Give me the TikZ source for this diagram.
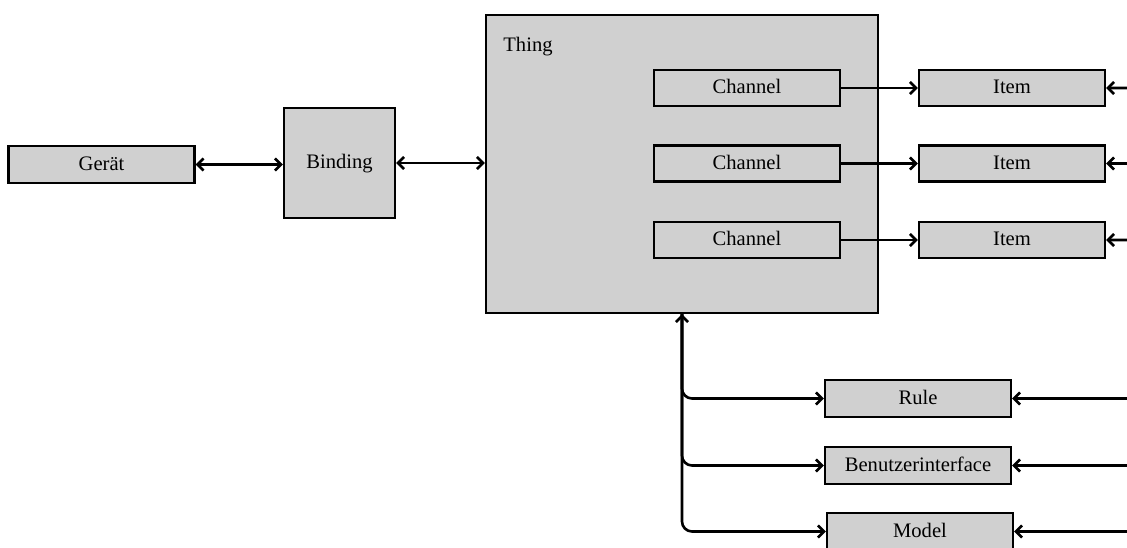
\documentclass[tikz,border=0pt]{standalone}
\usepackage{fontspec}
\setmainfont{Liberation Serif}
\usetikzlibrary{arrows.meta}
\definecolor{boxgray}{HTML}{D0D0D0}
\tikzset{
  box/.style={draw=black, fill=boxgray, line width=1.2pt, inner sep=0pt,
    font=\fontsize{10.3}{12}\selectfont, text height=7pt, text depth=1.5pt},
  wide/.style={box, minimum width=93pt, minimum height=18.5pt},
  conn/.style={line width=1.3pt, rounded corners=5pt},
  tip/.style={-{Straight Barb[length=3pt,width=6pt]}},
  both/.style={{Straight Barb[length=3pt,width=6pt]}-{Straight Barb[length=3pt,width=6pt]}}
}
\begin{document}
\begin{tikzpicture}[x=0.5pt, y=-0.5pt]
  \useasboundingbox (0,0) rectangle (1127,547);
  \clip (0,0) rectangle (1127,547);

  % left chain
  \node[wide] (geraet) at (101.5,164.5) {Gerät};
  \node[box, minimum width=55.5pt, minimum height=55pt] (binding) at (339.5,163) {Binding};

  % thing with its channels
  \node[box, minimum width=196pt, minimum height=149pt] (thing) at (682,164) {};
  \node[font=\fontsize{10.3}{12}\selectfont, anchor=west, inner sep=0pt] (thinglabel) at (503,47) {Thing};
  \node[wide, minimum height=18pt] (ch1) at (747,88) {Channel};
  \node[wide, minimum height=18pt] (ch2) at (747,163.5) {Channel};
  \node[wide, minimum height=18pt] (ch3) at (747,240) {Channel};

  % items
  \node[wide, minimum height=18pt] (it1) at (1012,88) {Item};
  \node[wide, minimum height=18pt] (it2) at (1012,163.5) {Item};
  \node[wide, minimum height=18pt] (it3) at (1012,240) {Item};

  % consumers below
  \node[wide] (rule) at (918,398.5) {Rule};
  \node[wide] (ui) at (918,465.5) {Benutzerinterface};
  \node[wide] (model) at (920,531.5) {Model};

  % links on the left
  \draw[conn, both] (geraet.east) -- (binding.west |- geraet.east);
  \draw[conn, both] (binding.east) -- (thing.west |- binding.east);

  % channel to item links
  \foreach \i in {1,2,3} {
    \draw[conn, tip] (ch\i.east) -- (it\i.west);
  }

  % trunk from the thing down to rule, interface and model
  \draw[conn, tip] (thing.south |- rule.west) -- (thing.south);
  \draw[conn, tip] (thing.south) -- (thing.south |- rule.west) -- (rule.west);
  \draw[conn, tip] (thing.south) -- (thing.south |- ui.west) -- (ui.west);
  \draw[conn, tip] (thing.south) -- (thing.south |- model.west) -- (model.west);

  % incoming links from the right edge
  \coordinate (ri1) at (1137,100);
  \coordinate (ri2) at (1137,176);
  \coordinate (ri3) at (1137,252);
  \coordinate (rr) at (1137,386);
  \coordinate (ru) at (1137,453);
  \coordinate (rm) at (1137,519);
  \draw[conn, tip] (ri1) |- (it1.east);
  \draw[conn, tip] (ri2) |- (it2.east);
  \draw[conn, tip] (ri3) |- (it3.east);
  \draw[conn, tip] (rr) |- (rule.east);
  \draw[conn, tip] (ru) |- (ui.east);
  \draw[conn, tip] (rm) |- (model.east);
\end{tikzpicture}
\end{document}
